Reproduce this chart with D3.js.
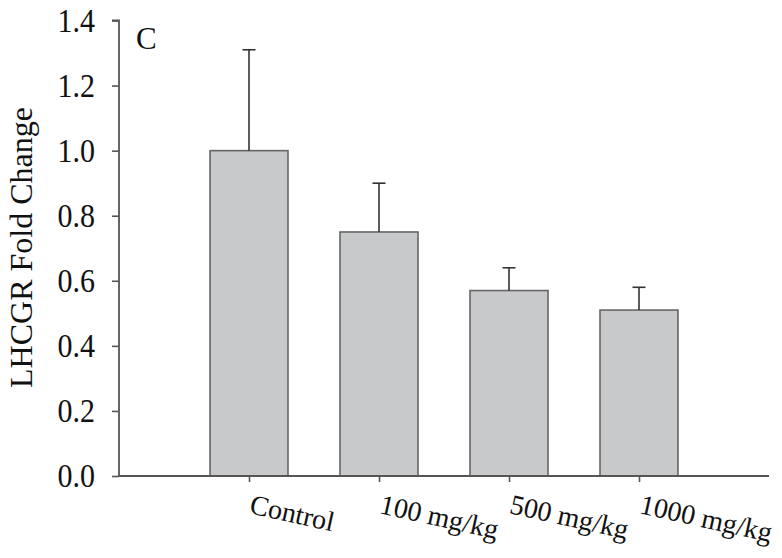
<!DOCTYPE html>
<html>
<head>
<meta charset="utf-8">
<script src="https://cdn.jsdelivr.net/npm/d3@7"></script>
<style>
  html, body { margin: 0; padding: 0; background: #fff; }
  svg { display: block; }
</style>
</head>
<body>
<svg id="chart" width="782" height="558"></svg>
<script>
const categories = ["Control", "100 mg/kg", "500 mg/kg", "1000 mg/kg"];
const means = [1.00, 0.75, 0.57, 0.51];
const errors = [0.31, 0.15, 0.07, 0.07];
const yTicks = [0.0, 0.2, 0.4, 0.6, 0.8, 1.0, 1.2, 1.4];
const yLabel = "LHCGR Fold Change";
const panelLabel = "C";

const FONT = "Liberation Serif";
const svg = d3.select("#chart");
const x = d3.scaleLinear().domain([0, categories.length + 1]).range([119, 769]);
const y = d3.scaleLinear().domain([0, 1.4]).range([476, 20.5]);
const barW = (x(1) - x(0)) * 0.6;
const axisColor = "#555";

// bars
svg.append("g").selectAll("rect").data(means).join("rect")
  .attr("x", (d, i) => x(i + 1) - barW / 2)
  .attr("y", d => y(d))
  .attr("width", barW)
  .attr("height", d => y(0) - y(d))
  .attr("fill", "#c8c9cb")
  .attr("stroke", "#666")
  .attr("stroke-width", 1.6);

// error bars (upper only)
const eb = svg.append("g").attr("stroke", "#333").attr("stroke-width", 1.6);
means.forEach((m, i) => {
  const cx = x(i + 1);
  eb.append("line").attr("x1", cx).attr("x2", cx).attr("y1", y(m)).attr("y2", y(m + errors[i]));
  eb.append("line").attr("x1", cx - 6.5).attr("x2", cx + 6.5).attr("y1", y(m + errors[i])).attr("y2", y(m + errors[i]));
});

// y axis
const yAxis = d3.axisLeft(y).tickValues(yTicks).tickFormat(d3.format(".1f")).tickSize(7).tickPadding(17);
const gy = svg.append("g").attr("transform", `translate(${x(0)},0)`).call(yAxis);
gy.select(".domain").attr("stroke", axisColor).attr("stroke-width", 1.8).attr("d", `M-7,${y(1.4)}H0V${y(0)}`);
gy.selectAll(".tick line").attr("stroke", axisColor).attr("stroke-width", 1.6);
gy.selectAll(".tick text")
  .style("font-family", FONT).style("font-size", "30px").attr("fill", "#111")
  .attr("transform", "scale(1,1.12)");

// x axis
const xAxis = d3.axisBottom(x).tickValues(categories.map((c, i) => i + 1))
  .tickFormat((d) => categories[d - 1]).tickSize(6);
const gx = svg.append("g").attr("transform", `translate(0,${y(0)})`).call(xAxis);
gx.select(".domain").attr("stroke", axisColor).attr("stroke-width", 1.8).attr("d", `M${x(0)},0H${x(5)}`);
gx.selectAll(".tick line").attr("stroke", axisColor).attr("stroke-width", 1.6);
gx.selectAll(".tick text")
  .style("font-family", FONT).style("font-size", "28px").attr("fill", "#111")
  .attr("text-anchor", "start")
  .attr("dy", null)
  .attr("y", 0)
  .attr("transform", "translate(-1,37) rotate(12.5)");

// y label
svg.append("text")
  .attr("transform", `translate(32,247.5) rotate(-90)`)
  .attr("text-anchor", "middle")
  .style("font-family", FONT)
  .style("font-size", "32px")
  .attr("fill", "#111")
  .text(yLabel);

// panel label
svg.append("text")
  .attr("x", 136).attr("y", 49)
  .style("font-family", FONT)
  .style("font-size", "31px")
  .attr("fill", "#111")
  .text(panelLabel);
</script>
</body>
</html>
